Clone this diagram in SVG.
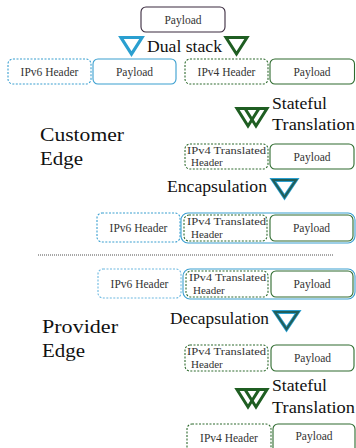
<svg xmlns="http://www.w3.org/2000/svg" width="356" height="448" viewBox="0 0 356 448">
<style>
text{fill:#333;}
.s{font-size:11.5px;text-anchor:middle;}
.xs{font-size:11px;}
.l{font-size:16.5px;fill:#111;}
.xl{font-size:19.5px;fill:#111;}
.bd{fill:none;stroke:#3a9fd0;stroke-width:1.1;stroke-dasharray:2 1.5;}
.bs{fill:#fff;stroke:#3a9fd0;stroke-width:1.1;}
.gd{fill:none;stroke:#2e6b2e;stroke-width:1.1;stroke-dasharray:2 1.5;}
.gs{fill:#fff;stroke:#2e6b2e;stroke-width:1.1;}
.ps{fill:#fff;stroke:#3a2a3e;stroke-width:1.1;}
.tb{fill:none;stroke:#2a9fd0;stroke-width:3.2;stroke-linejoin:miter;}
.tg{fill:none;stroke:#1f5e22;stroke-width:3;stroke-linejoin:miter;}
.tt{fill:none;stroke:#2a9fd0;stroke-width:3.8;}
.tt2{fill:none;stroke:#1f5e5a;stroke-width:2.2;}
</style>
<rect width="356" height="448" fill="#fff"/>

<g id="top-payload"><rect class="ps" x="141" y="7" width="84" height="25" rx="5"/><text font-family="Liberation Serif" class="s" x="183" y="23.5">Payload</text></g>

<g id="dual-stack">
<polygon class="tb" points="121,37.5 142,37.5 131.5,54"/>
<text font-family="Liberation Serif" class="l" x="147" y="52" textLength="75" lengthAdjust="spacingAndGlyphs">Dual stack</text>
<polygon class="tg" points="226,37.5 247,37.5 236.5,54"/>
</g>

<g id="row-ipv6"><rect class="bd" x="8" y="59" width="83" height="25" rx="5"/><text font-family="Liberation Serif" class="s" x="49.5" y="75.5">IPv6 Header</text>
<rect class="bs" x="93" y="59" width="83" height="25" rx="5"/><text font-family="Liberation Serif" class="s" x="134.5" y="75.5">Payload</text></g>
<g id="row-ipv4"><rect class="gd" x="185" y="59" width="83" height="25" rx="5"/><text font-family="Liberation Serif" class="s" x="226.5" y="75.5">IPv4 Header</text>
<rect class="gs" x="270" y="59" width="84.5" height="25" rx="5"/><text font-family="Liberation Serif" class="s" x="312" y="75.5">Payload</text></g>

<g id="stateful-1">
<polygon class="tg" points="237,108.5 259,108.5 248,126"/>
<polygon class="tg" points="245,108.5 267,108.5 256,126"/>
<text font-family="Liberation Serif" class="l" x="272" y="109" textLength="55" lengthAdjust="spacingAndGlyphs">Stateful</text>
<text font-family="Liberation Serif" class="l" x="272" y="130" textLength="83" lengthAdjust="spacingAndGlyphs">Translation</text>
</g>

<g id="customer-edge"><text font-family="Liberation Serif" class="xl" x="40" y="141" textLength="84" lengthAdjust="spacingAndGlyphs">Customer</text><text font-family="Liberation Serif" class="xl" x="40" y="165" textLength="43" lengthAdjust="spacingAndGlyphs">Edge</text></g>

<g id="ce-translated">
<rect class="gd" x="185" y="144" width="83" height="25" rx="5"/>
<text font-family="Liberation Serif" class="xs" x="187" y="154" textLength="79" lengthAdjust="spacingAndGlyphs">IPv4 Translated</text>
<text font-family="Liberation Serif" class="xs" x="191" y="166">Header</text>
<rect class="gs" x="270" y="144" width="84" height="25" rx="5"/><text font-family="Liberation Serif" class="s" x="312" y="160.5">Payload</text>
</g>

<g id="encapsulation">
<text font-family="Liberation Serif" class="l" x="167" y="192" textLength="100" lengthAdjust="spacingAndGlyphs">Encapsulation</text>
<polygon class="tt" points="273,180 296,180 284.5,197"/>
<polygon class="tt2" points="273,180 296,180 284.5,197"/>
</g>

<g id="ce-encap">
<rect class="bd" x="97" y="213" width="83" height="29" rx="5"/><text font-family="Liberation Serif" class="s" x="138.5" y="231.5">IPv6 Header</text>
<rect class="bs" x="181" y="213" width="174" height="30" rx="7"/>
<rect class="gd" x="184" y="215" width="83" height="26" rx="5"/>
<text font-family="Liberation Serif" class="xs" x="187" y="225" textLength="79" lengthAdjust="spacingAndGlyphs">IPv4 Translated</text>
<text font-family="Liberation Serif" class="xs" x="191" y="238">Header</text>
<rect class="gs" x="270" y="215" width="83" height="26" rx="5"/><text font-family="Liberation Serif" class="s" x="311.5" y="232">Payload</text>
</g>

<g id="connectors"><line x1="38" y1="255" x2="334" y2="255" stroke="#222" stroke-width="0.8" stroke-dasharray="1 1"/></g>

<g id="pe-encap">
<rect class="bd" x="98" y="269" width="83" height="29" rx="5" style="stroke:#6cb8e0"/><text font-family="Liberation Serif" class="s" x="139.5" y="287.5">IPv6 Header</text>
<rect class="bs" x="183" y="269" width="172" height="30" rx="7"/>
<rect class="gd" x="186" y="271" width="82" height="26" rx="5"/>
<text font-family="Liberation Serif" class="xs" x="189" y="281" textLength="77" lengthAdjust="spacingAndGlyphs">IPv4 Translated</text>
<text font-family="Liberation Serif" class="xs" x="193" y="294">Header</text>
<rect class="gs" x="271" y="271" width="82" height="26" rx="5"/><text font-family="Liberation Serif" class="s" x="312" y="288">Payload</text>
</g>

<g id="provider-edge"><text font-family="Liberation Serif" class="xl" x="42" y="333" textLength="76" lengthAdjust="spacingAndGlyphs">Provider</text><text font-family="Liberation Serif" class="xl" x="42" y="357" textLength="43" lengthAdjust="spacingAndGlyphs">Edge</text></g>

<g id="decapsulation">
<text font-family="Liberation Serif" class="l" x="170" y="324" textLength="99" lengthAdjust="spacingAndGlyphs">Decapsulation</text>
<polygon class="tt" points="275,312 298,312 286.5,329"/>
<polygon class="tt2" points="275,312 298,312 286.5,329"/>
</g>

<g id="pe-translated">
<rect class="gd" x="185" y="345" width="83" height="26" rx="5"/>
<text font-family="Liberation Serif" class="xs" x="187" y="355" textLength="79" lengthAdjust="spacingAndGlyphs">IPv4 Translated</text>
<text font-family="Liberation Serif" class="xs" x="191" y="367.5">Header</text>
<rect class="gs" x="271" y="345" width="83" height="26" rx="5"/><text font-family="Liberation Serif" class="s" x="312.5" y="362">Payload</text>
</g>

<g id="stateful-2">
<polygon class="tg" points="237,389.5 259,389.5 248,407"/>
<polygon class="tg" points="245,389.5 267,389.5 256,407"/>
<text font-family="Liberation Serif" class="l" x="272" y="391" textLength="55" lengthAdjust="spacingAndGlyphs">Stateful</text>
<text font-family="Liberation Serif" class="l" x="272" y="413" textLength="83" lengthAdjust="spacingAndGlyphs">Translation</text>
</g>

<g id="bottom-row">
<rect class="gd" x="187" y="424" width="84" height="30" rx="5"/><text font-family="Liberation Serif" class="s" x="229" y="441.5">IPv4 Header</text>
<rect class="gs" x="273" y="424" width="82" height="30" rx="5"/><text font-family="Liberation Serif" class="s" x="314" y="440">Payload</text>
</g>
</svg>
